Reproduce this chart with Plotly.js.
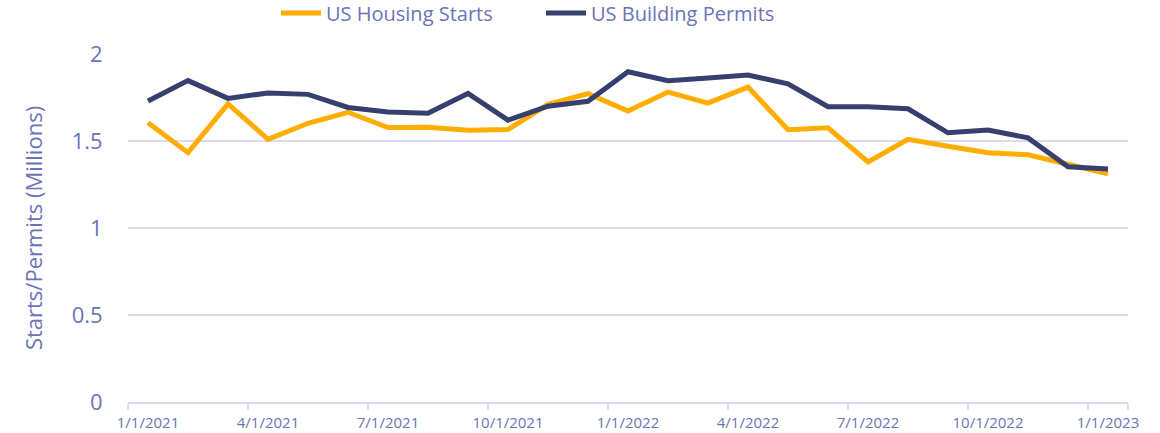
<!DOCTYPE html>
<html>
<head>
<meta charset="utf-8">
<script src="https://cdn.plot.ly/plotly-3.0.1.min.js"></script>
<style>html,body{margin:0;padding:0;background:#fff;}#chart{width:1160px;height:433px;}</style>
</head>
<body>
<div id="chart"></div>
<script>
var months = ["1/1/2021","2/1/2021","3/1/2021","4/1/2021","5/1/2021","6/1/2021","7/1/2021","8/1/2021","9/1/2021","10/1/2021","11/1/2021","12/1/2021",
              "1/1/2022","2/1/2022","3/1/2022","4/1/2022","5/1/2022","6/1/2022","7/1/2022","8/1/2022","9/1/2022","10/1/2022","11/1/2022","12/1/2022","1/1/2023"];
var housingStarts = [1.605,1.433,1.713,1.510,1.602,1.665,1.577,1.579,1.562,1.566,1.711,1.772,
                     1.672,1.781,1.718,1.810,1.565,1.576,1.380,1.510,1.470,1.432,1.421,1.368,1.312];
var buildingPermits = [1.730,1.847,1.745,1.776,1.768,1.693,1.667,1.659,1.773,1.620,1.700,1.728,
                       1.898,1.847,1.862,1.879,1.828,1.697,1.697,1.685,1.547,1.563,1.518,1.352,1.339];
var tickLabels = ["1/1/2021","4/1/2021","7/1/2021","10/1/2021","1/1/2022","4/1/2022","7/1/2022","10/1/2022","1/1/2023"];

var txt = '#6b74b6';
var grid = '#d9dcee';
var traces = [
  {x: months, y: housingStarts, type: 'scatter', mode: 'lines', name: 'US Housing Starts',
   line: {color: '#ffad00', width: 5}},
  {x: months, y: buildingPermits, type: 'scatter', mode: 'lines', name: 'US Building Permits',
   line: {color: '#373f6f', width: 5}}
];
var layout = {
  width: 1160, height: 433,
  margin: {l: 128, r: 32, t: 54, b: 31, autoexpand: false},
  paper_bgcolor: '#fff', plot_bgcolor: '#fff',
  font: {family: '"Open Sans", "Noto Sans", sans-serif', color: txt},
  showlegend: true,
  legend: {orientation: 'h', x: 0.148, xanchor: 'left', y: 1.118, yanchor: 'middle',
           yref: 'paper', font: {size: 20, color: txt}, itemwidth: 40, traceorder: 'normal',
           entrywidth: 210, entrywidthmode: 'pixels',
           bgcolor: 'rgba(0,0,0,0)'},
  xaxis: {type: 'category', tickmode: 'array', tickvals: tickLabels, ticktext: tickLabels,
          tickson: 'boundaries', ticks: 'outside', ticklen: 6, tickcolor: grid, tickwidth: 1.5,
          tickangle: 0, automargin: false, ticklabelstandoff: 6,
          showline: true, linecolor: grid, linewidth: 1.5, showgrid: false, zeroline: false,
          tickfont: {size: 15, color: txt}, range: [-0.5, 24.5], fixedrange: true},
  yaxis: {range: [0, 2], tickvals: [0, 0.5, 1, 1.5, 2], ticktext: ['0','0.5','1','1.5','2'],
          showgrid: true, gridcolor: grid, gridwidth: 1.5, zeroline: false, showline: false,
          ticks: 'outside', ticklen: 20, tickcolor: 'rgba(0,0,0,0)', automargin: false,
          tickfont: {size: 22, color: txt},
          title: {text: 'Starts/Permits (Millions)', font: {size: 22, color: txt}, standoff: 22}}
};
Plotly.newPlot('chart', traces, layout, {displayModeBar: false, staticPlot: true});
</script>
</body>
</html>
